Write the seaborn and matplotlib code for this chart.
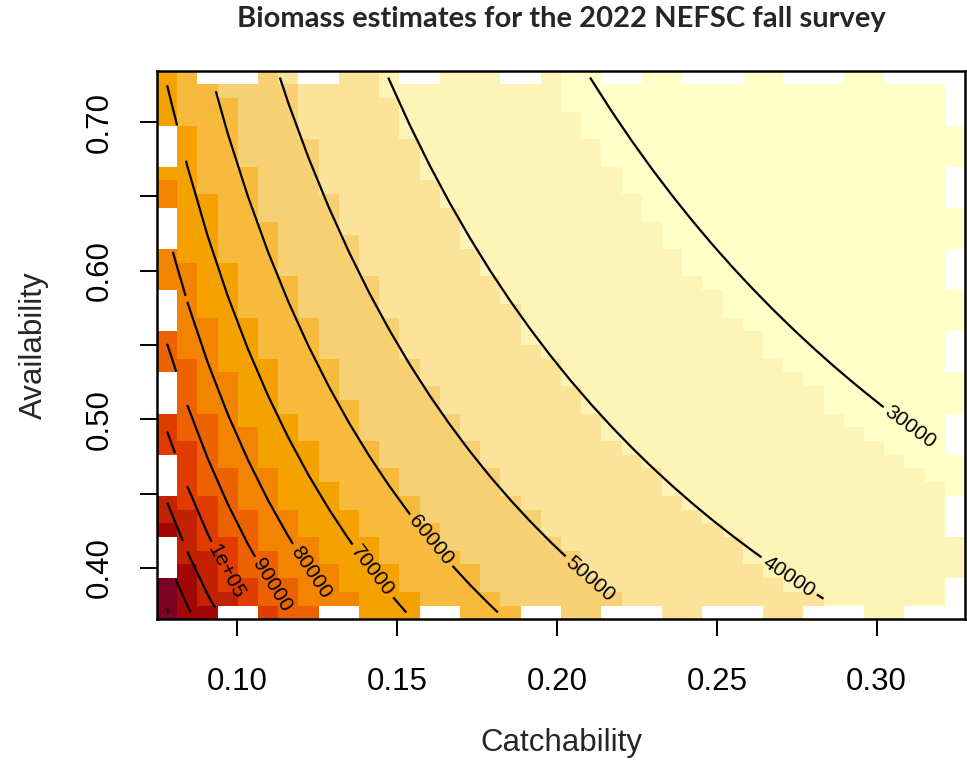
import numpy as np
import pandas as pd
import matplotlib
matplotlib.use("Agg")
import matplotlib.pyplot as plt
from matplotlib.colors import ListedColormap
import seaborn as sns

# ---------------------------------------------------------------------------
# Sensitivity grid: catchability (q) and availability (a) cell centres
# ---------------------------------------------------------------------------
catchability = np.linspace(0.078, 0.3245, 40)
availability = np.linspace(0.37, 0.73, 40)

# Biomass = swept-area index / (q * a) + component not covered by the survey
swept_area_index = 3579.0
unsurveyed_biomass = 6692.0

# Cells along the grid border with no estimate (column / row indices)
top_row_gaps = [2, 3, 4, 7, 8, 12, 13, 17, 18, 22, 23, 26, 27, 28, 31, 32, 33, 36, 37, 38, 39]
bottom_row_gaps = [3, 4, 8, 9, 13, 14, 18, 19, 22, 23, 24, 27, 28, 29, 32, 33, 34, 37, 38, 39]
left_col_gaps = [4, 5, 6, 10, 11, 12, 16, 17, 18, 22, 23, 24, 28, 29, 30, 34, 35, 36]   # rows from top
right_col_gaps = [0, 1, 2, 3, 7, 8, 9, 13, 14, 15, 19, 20, 21, 25, 26, 27, 31, 32, 33, 37, 38, 39]

# Contour levels and labels
contour_levels = [30000, 40000, 50000, 60000, 70000, 80000, 90000, 100000, 110000, 120000, 130000]
labelled_levels = [30000, 40000, 50000, 60000, 70000, 80000, 90000, 100000]
level_text = ["30000", "40000", "50000", "60000", "70000", "80000", "90000", "1e+05"]
label_q = [0.3104, 0.2722, 0.2103, 0.1603, 0.1415, 0.1224, 0.1105, 0.0962]
label_a = [0.4942, 0.3931, 0.3924, 0.4180, 0.3964, 0.3964, 0.3877, 0.3971]

x_ticks = [0.10, 0.15, 0.20, 0.25, 0.30]
y_ticks = [0.40, 0.45, 0.50, 0.55, 0.60, 0.65, 0.70]
y_tick_text = ["0.40", "", "0.50", "", "0.60", "", "0.70"]


# ---------------------------------------------------------------------------
# R's hcl.colors(12, "YlOrRd", rev = TRUE)
# ---------------------------------------------------------------------------
def hcl_hex(h, c, l):
    wx, wy, wz = 95.047, 100.0, 108.883
    wu, wv = 0.1978398, 0.4683363
    hr = np.deg2rad(h)
    U, V = c * np.cos(hr), c * np.sin(hr)
    Y = wy * (((l + 16) / 116) ** 3 if l > 7.999592 else l / 903.3)
    u = U / (13 * l) + wu
    v = V / (13 * l) + wv
    X = 9.0 * Y * u / (4 * v)
    Z = -X / 3 - 5 * Y + 3 * Y / v

    def g(t):
        return 1.055 * t ** (1 / 2.4) - 0.055 if t > 0.00304 else 12.92 * t

    rgb = [g((3.240479 * X - 1.537150 * Y - 0.498535 * Z) / wy),
           g((-0.969256 * X + 1.875992 * Y + 0.041556 * Z) / wy),
           g((0.055648 * X - 0.204043 * Y + 1.057311 * Z) / wy)]
    rgb = [min(max(t, 0.0), 1.0) for t in rgb]
    return "#" + "".join(f"{int(255 * t + 0.5):02X}" for t in rgb)


def ylorrd(n):
    h1, h2, c1, c2, l1, l2, p1, p2, cmax = 5, 85, 75, 40, 25, 99, 1.6, 1.3, 180
    j = 1 / (1 + abs(cmax - c1) / abs(cmax - c2))
    cols = []
    for i in np.linspace(1, 0, n):
        ip = i ** p1
        h = h2 - (h2 - h1) * i
        c = c2 - (c2 - cmax) * ip / j if ip <= j else cmax - (cmax - c1) * abs((ip - j) / (1 - j))
        l = l2 - (l2 - l1) * i ** p2
        cols.append(hcl_hex(h, c, l))
    return cols[::-1]


palette = ylorrd(12)

# ---------------------------------------------------------------------------
# Biomass surface (rows ordered from high to low availability)
# ---------------------------------------------------------------------------
a_desc = availability[::-1]
Q, A = np.meshgrid(catchability, a_desc)
biomass = swept_area_index / (Q * A) + unsurveyed_biomass
biomass[0, top_row_gaps] = np.nan
biomass[-1, bottom_row_gaps] = np.nan
biomass[left_col_gaps, 0] = np.nan
biomass[right_col_gaps, -1] = np.nan

df = pd.DataFrame(biomass, index=np.round(a_desc, 4), columns=np.round(catchability, 4))

dq = catchability[1] - catchability[0]
da = availability[1] - availability[0]


def col_pos(q):
    return (np.asarray(q) - catchability[0]) / dq + 0.5


def row_pos(a):
    return (availability[-1] - np.asarray(a)) / da + 0.5


# ---------------------------------------------------------------------------
# Figure
# ---------------------------------------------------------------------------
sns.set_style("white")
plt.rcParams["font.family"] = ["Liberation Sans", "DejaVu Sans"]

fig = plt.figure(figsize=(9.67, 7.73), dpi=100)
ax = fig.add_axes([0.16236, 0.19884, 0.83557, 0.70970])

zmin, zmax = np.nanmin(biomass), np.nanmax(biomass)
sns.heatmap(df, ax=ax, cmap=ListedColormap(palette), vmin=zmin, vmax=zmax,
            cbar=False, xticklabels=False, yticklabels=False)

cx = np.arange(biomass.shape[1]) + 0.5
cy = np.arange(biomass.shape[0]) + 0.5
masked = np.ma.masked_invalid(biomass)
cs = ax.contour(cx, cy, masked, levels=contour_levels, colors="black", linewidths=1.6)
manual = list(zip(col_pos(label_q), row_pos(label_a)))
ax.clabel(cs, levels=labelled_levels, fmt=dict(zip(labelled_levels, level_text)),
          manual=manual, inline=True, inline_spacing=4, fontsize=15, colors="black")

for sp in ax.spines.values():
    sp.set_visible(True)
    sp.set_color("black")
    sp.set_linewidth(1.8)

ax.set_xlim(0, biomass.shape[1])
ax.set_ylim(biomass.shape[0], 0)
ax.set_xticks(col_pos(x_ticks))
ax.set_xticklabels([f"{v:.2f}" for v in x_ticks])
ax.set_yticks(row_pos(y_ticks))
ax.set_yticklabels(y_tick_text, rotation=90, va="center")
ax.tick_params(axis="both", direction="out", length=12.5, width=1.4,
               labelsize=22.5, color="black", labelcolor="black",
               bottom=True, left=True)
ax.tick_params(axis="x", pad=22)
ax.tick_params(axis="y", pad=18)

ax.set_xlabel("Catchability", fontsize=22.5, labelpad=22)
ax.set_ylabel("Availability", fontsize=22.5, labelpad=26)

fig.text(0.5801, 0.975, "Biomass estimates for the 2022 NEFSC fall survey",
         ha="center", va="center", fontsize=21, fontweight="bold", family=["Lato", "DejaVu Sans"])

fig.savefig("out.png", dpi=100)
